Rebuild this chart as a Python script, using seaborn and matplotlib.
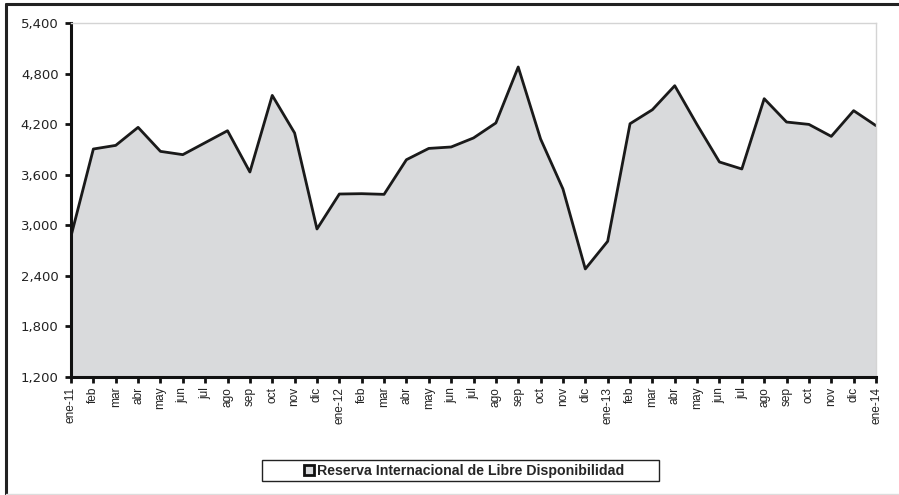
import matplotlib
matplotlib.use("Agg")
import matplotlib.pyplot as plt
import seaborn as sns
import pandas as pd
import numpy as np
from matplotlib.patches import Rectangle
from matplotlib.lines import Line2D
from matplotlib.ticker import FuncFormatter

months = ["ene-11", "feb", "mar", "abr", "may", "jun", "jul", "ago", "sep", "oct", "nov", "dic",
          "ene-12", "feb", "mar", "abr", "may", "jun", "jul", "ago", "sep", "oct", "nov", "dic",
          "ene-13", "feb", "mar", "abr", "may", "jun", "jul", "ago", "sep", "oct", "nov", "dic",
          "ene-14"]
rild = [2870, 3905, 3948, 4162, 3877, 3838, 3980, 4122, 3632, 4541, 4095, 2956,
        3371, 3375, 3367, 3778, 3912, 3929, 4036, 4214, 4878, 4024, 3431, 2482,
        2810, 4205, 4371, 4656, 4193, 3751, 3668, 4502, 4225, 4197, 4055, 4360,
        4182]
yticks = [1200, 1800, 2400, 3000, 3600, 4200, 4800, 5400]
series_name = "Reserva Internacional de Libre Disponibilidad"

df = pd.DataFrame({"idx": np.arange(len(months)), "valor": rild})

sns.set_theme(style="white")
plt.rcParams["font.family"] = ["Liberation Sans", "DejaVu Sans"]

fig = plt.figure(figsize=(8.99, 4.95), dpi=100)
ax = fig.add_axes([71 / 899, 1 - 377 / 495, (876 - 71) / 899, (377 - 23) / 495])

ax.fill_between(df["idx"], df["valor"], 1200, color="#d9dadc", linewidth=0)
sns.lineplot(data=df, x="idx", y="valor", ax=ax, color="#1a1a1a", linewidth=2.0)

ax.set_xlim(0, len(months) - 1)
ax.set_ylim(1200, 5400)
ax.set_yticks(yticks)
ax.yaxis.set_major_formatter(FuncFormatter(lambda v, p: f"{int(v):,}"))
ax.set_xticks(df["idx"])
ax.set_xticklabels(months, rotation=90, fontsize=8.6, color="#222222")
for lbl in ax.get_yticklabels():
    lbl.set_family(["DejaVu Sans"])
ax.tick_params(axis="y", labelsize=9.5, labelcolor="#222222", pad=5)
ax.tick_params(axis="both", direction="out", length=4, width=2, color="#111111", left=True, bottom=True)
ax.tick_params(axis="x", pad=3)
for lbl in ax.get_yticklabels():
    lbl.set_family(["DejaVu Sans"])
ax.set_xlabel("")
ax.set_ylabel("")

for s in ["left", "bottom"]:
    ax.spines[s].set_color("#111111")
    ax.spines[s].set_linewidth(2.2)
for s in ["top", "right"]:
    ax.spines[s].set_color("#d4d4d4")
    ax.spines[s].set_linewidth(1.0)

# legend frame and content
fig.patches.append(Rectangle((262 / 899, 1 - 481 / 495), (659 - 262) / 899, 21 / 495,
                             transform=fig.transFigure, fill=False, edgecolor="#222222",
                             linewidth=1.0))
handle = Line2D([], [], marker="s", linestyle="none", markersize=7,
                markerfacecolor="#d9dadc", markeredgecolor="#111111", markeredgewidth=2)
fig.legend([handle], [series_name], loc="center", bbox_to_anchor=(464 / 899, 1 - 470.5 / 495),
           frameon=False, prop={"weight": "bold", "size": 10.2}, handlelength=0.8,
           handletextpad=0.2, borderpad=0.2)

# outer chart frame
fig.add_artist(Line2D([6 / 899, 6 / 899], [1 - 494 / 495, 1 - 4 / 495], transform=fig.transFigure,
                      color="#222222", linewidth=2.2))
fig.add_artist(Line2D([6 / 899, 1.0], [1 - 4 / 495, 1 - 4 / 495], transform=fig.transFigure,
                      color="#222222", linewidth=2.2))
fig.add_artist(Line2D([6 / 899, 1.0], [1 - 494 / 495, 1 - 494 / 495], transform=fig.transFigure,
                      color="#dddddd", linewidth=1.0))

fig.savefig("out.png", dpi=100)
